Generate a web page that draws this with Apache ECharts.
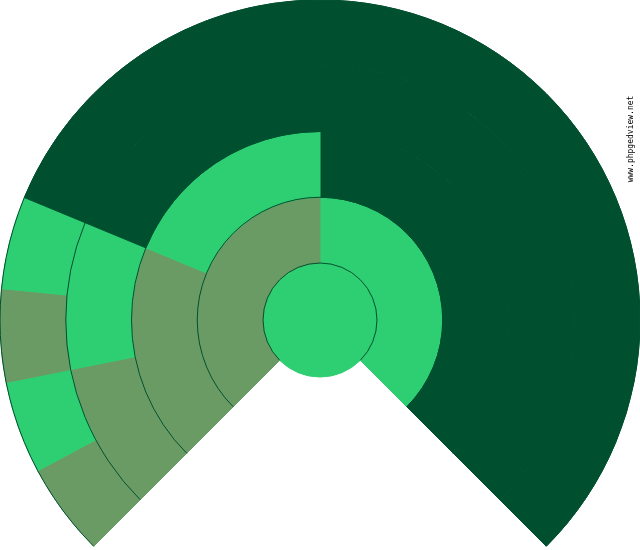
<!DOCTYPE html>
<html>
<head>
  <meta charset="utf-8">
  <title>fan chart</title>
  <script src="https://cdn.jsdelivr.net/npm/echarts@6/dist/echarts.min.js"></script>
  <style>
    html, body { margin: 0; padding: 0; background: #fff; }
    #main { width: 640px; height: 550px; }
  </style>
</head>
<body>
  <div id="main"></div>
  <script>
    // one entry per box of the fan, ring by ring, listed clockwise from 225deg
    // kind: M = male, F = female, none = unknown ancestor, gap = unused part of the circle
    var rootKind = 'M';
    var ring1Span = [135, 90, 135];
    var ring1Kind = ['M', 'gap', 'F'];
    var ring2Span = [135, 67.5, 67.5];
    var ring2Kind = ['none', 'F', 'M'];
    var ring2Parent = [0, 2, 2];
    var ring3Span = [135, 33.75, 33.75, 67.5];
    var ring3Kind = ['none', 'F', 'M', 'none'];
    var ring3Parent = [0, 1, 1, 2];
    var ring4Span = [135, 16.875, 16.875, 16.875, 16.875, 67.5];
    var ring4Kind = ['none', 'F', 'M', 'F', 'M', 'none'];
    var ring4Parent = [0, 1, 1, 2, 2, 3];

    var colors = { M: '#2ecf72', F: '#6b9b65', none: '#00502f', gap: 'rgba(0,0,0,0)' };
    var lineColor = '#00502f';
    // ring edges in px: centre disc, then 4 equal rings out to 320
    var ringEdges = [0, 57, 122.75, 188.5, 254.25, 320];

    function node(kind, span) {
      var c = colors[kind];
      return {
        name: kind,
        value: span,
        children: [],
        itemStyle: { color: c, borderColor: c, borderWidth: kind === 'gap' ? 0 : 1 }
      };
    }

    var root = node(rootKind, 360);
    var ring1 = ring1Span.map(function (s, i) { return node(ring1Kind[i], s); });
    ring1.forEach(function (n) { root.children.push(n); });
    function attach(prev, spans, kinds, parents) {
      var list = spans.map(function (s, i) { return node(kinds[i], s); });
      list.forEach(function (n, i) { prev[parents[i]].children.push(n); });
      return list;
    }
    var ring2 = attach(ring1, ring2Span, ring2Kind, ring2Parent);
    var ring3 = attach(ring2, ring3Span, ring3Kind, ring3Parent);
    attach(ring3, ring4Span, ring4Kind, ring4Parent);

    var levels = [{}];
    for (var i = 0; i < ringEdges.length - 1; i++) {
      levels.push({ r0: ringEdges[i], r: ringEdges[i + 1] });
    }

    var myChart = echarts.init(document.getElementById('main'));
    var option = {
      backgroundColor: '#fff',
      animation: false,
      polar: { center: [320, 320], radius: [57, 320] },
      angleAxis: {
        type: 'value', min: 0, max: 270,
        startAngle: 225, endAngle: -45,
        axisLine: { show: false }, axisTick: { show: false },
        axisLabel: { show: false }, splitLine: { show: false }
      },
      radiusAxis: {
        type: 'value', min: 0, max: 4, interval: 1, z: 10,
        axisLine: { show: false }, axisTick: { show: false },
        axisLabel: { show: false },
        splitLine: { show: true, lineStyle: { color: lineColor, width: 1 } }
      },
      graphic: [{
        type: 'text',
        x: 631, y: 139,
        rotation: Math.PI / 2,
        style: {
          text: 'www.phpgedview.net',
          font: '8px "DejaVu Sans Mono"',
          fill: '#000',
          align: 'center',
          verticalAlign: 'middle'
        }
      }],
      series: [{
        type: 'sunburst',
        center: [320, 320],
        radius: [0, 320],
        startAngle: 90,
        sort: null,
        nodeClick: false,
        label: { show: false },
        emphasis: { disabled: true },
        levels: levels,
        data: [root]
      }]
    };
    myChart.setOption(option);
  </script>
</body>
</html>
